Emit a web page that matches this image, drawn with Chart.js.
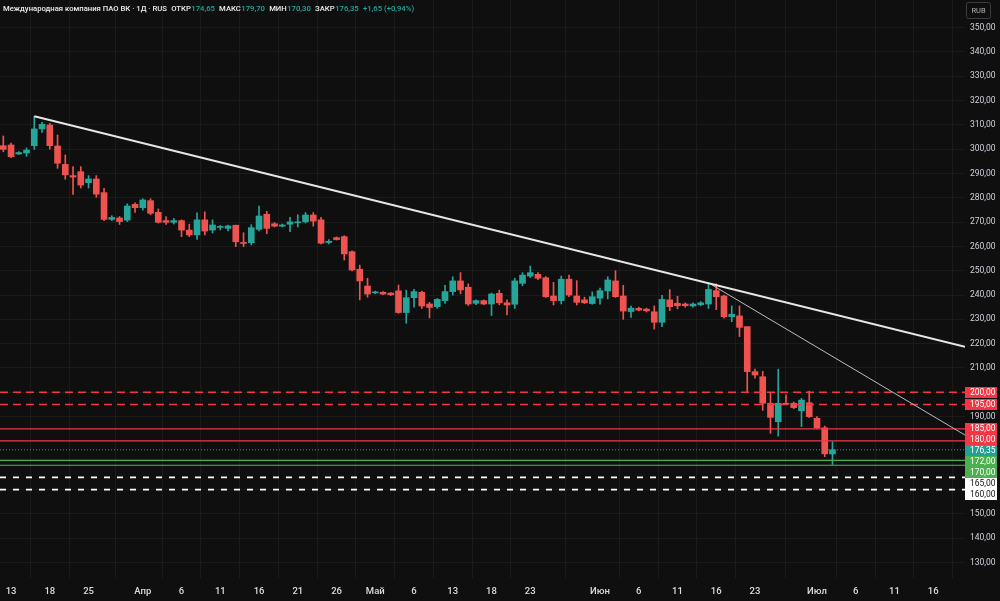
<!DOCTYPE html>
<html><head><meta charset="utf-8">
<script src="https://cdn.jsdelivr.net/npm/chart.js@4.4.1/dist/chart.umd.min.js"></script>
<style>html,body{margin:0;padding:0;background:#0f0f0f;overflow:hidden}#wrap{width:1000px;height:601px;position:relative}</style>
</head><body><div id="wrap"><canvas id="c" width="1000" height="601"></canvas></div>
<script>
// ---- data (daily candles) ----
const opens = [301.4,301.7,298.0,298.4,301.4,308.3,309.9,301.3,293.7,289.1,
290.7,286.2,287.7,282.1,271.1,271.7,270.8,277.3,275.9,278.8,
274.0,270.6,269.9,270.6,266.7,264.7,270.9,266.7,267.8,267.4,
268.7,261.5,261.5,267.0,273.2,269.3,268.3,269.1,269.7,270.1,
272.9,270.9,261.6,263.6,264.0,257.8,250.6,243.7,240.9,241.1,
240.8,241.7,232.8,238.9,241.1,236.3,235.2,237.7,241.4,245.8,
243.2,236.6,237.7,236.3,240.7,236.8,236.2,244.8,247.8,248.5,
247.1,239.6,237.7,246.5,239.6,238.0,236.5,238.7,241.7,245.8,
239.6,233.2,234.5,234.2,233.1,228.8,238.0,236.6,236.3,235.5,
236.0,236.3,241.8,239.6,231.1,231.4,227.0,208.5,206.4,195.5,
187.9,195.5,195.5,192.4,195.7,189.3,185.4,174.65];
const highs = [305.4,302.5,299.0,300.5,313.5,311.0,310.6,305.8,297.6,292.8,
292.8,289.1,289.1,283.9,272.6,272.3,277.5,277.9,279.6,279.6,
275.4,272.3,271.5,270.9,269.1,273.8,274.2,270.9,268.6,268.8,
268.7,265.6,268.9,276.6,274.4,269.8,269.2,271.9,273.0,273.9,
273.9,271.9,262.8,263.9,264.4,258.2,252.3,246.9,241.6,241.4,
241.0,244.1,242.0,242.3,241.6,237.0,238.6,244.0,247.5,249.2,
244.6,238.0,238.0,240.8,242.0,238.0,246.9,249.2,251.9,249.2,
247.6,245.2,247.8,248.2,245.9,239.1,241.3,242.9,247.5,250.0,
244.0,235.5,235.0,234.6,235.5,239.9,242.2,239.5,236.8,236.8,
237.3,244.8,244.6,240.0,235.5,235.5,227.0,209.5,208.6,199.6,
209.5,199.0,196.0,197.5,200.5,190.0,186.1,179.70];
const lows = [298.9,296.5,297.8,297.0,299.9,306.9,300.0,292.1,287.6,281.4,
284.0,284.0,280.2,270.6,270.6,269.0,270.2,274.0,274.9,273.0,
269.6,269.0,269.2,264.0,264.0,262.9,264.7,265.5,266.8,266.4,
259.9,259.9,260.6,266.4,265.2,268.0,268.0,266.0,268.0,269.6,
268.3,261.0,261.0,262.6,254.4,249.9,238.0,239.1,240.5,240.1,
239.8,232.5,228.4,235.0,234.5,230.6,234.5,236.5,240.0,240.5,
235.7,236.0,236.0,231.6,236.0,231.8,234.5,243.8,247.2,246.3,
239.0,235.9,236.3,239.3,235.9,236.5,236.2,236.2,238.4,239.0,
230.0,230.8,233.5,233.0,226.0,227.0,233.6,234.3,235.0,235.0,
235.6,234.5,234.0,230.5,229.0,222.9,199.8,205.8,192.6,183.1,
182.0,194.9,193.3,185.9,189.6,184.9,173.5,170.30];
const closes = [299.9,296.9,298.6,299.6,308.3,310.2,301.4,294.2,289.4,288.5,
285.2,287.7,281.5,271.1,271.9,270.2,276.6,275.9,279.1,273.6,
269.9,269.9,270.6,266.7,264.7,270.9,266.3,268.8,267.9,268.4,
261.9,261.2,267.7,272.5,267.4,268.3,268.8,270.1,270.1,272.9,
270.4,261.3,262.1,262.8,256.9,250.3,245.8,240.4,241.1,240.4,
240.1,232.8,238.9,241.4,235.5,234.9,238.2,241.4,245.8,242.1,
236.3,237.7,236.3,240.4,236.8,235.9,245.8,248.2,249.2,246.9,
239.3,237.7,246.5,240.0,237.0,236.8,239.3,241.8,246.2,239.3,
233.4,234.6,233.8,233.5,228.8,238.2,235.2,235.6,235.6,236.3,
236.8,242.3,239.3,231.1,232.1,226.7,208.5,207.1,195.5,189.7,
195.5,195.1,193.7,196.8,190.0,185.4,174.70,176.35];

const xTickIdx  = [1,6,11,18,23,28,33,38,43,48,53,58,63,68,77,82,87,92,97,105,110,115,120];
const xTickText = ['13','18','25','Апр','6','11','16','21','26','Май','6','13','18','23','Июн','6','11','16','23','Июл','6','11','16'];
const yTickValues = [130,140,150,160,170,180,190,200,210,220,230,240,250,260,270,280,290,300,310,320,330,340,350];

const levelValues = [200,195,185,180,176.35,172,170,165,160];
const levelKinds  = ['resDash','resDash','res','res','last','sup','sup','dash','dash'];

const trendMainX = [4,124.1];  const trendMainY = [313.5,218.7];
const trendThinX = [91,124.1]; const trendThinY = [245.0,182.4];

const headerTitle = 'Международная компания ПАО ВК · 1Д · RUS';
const headerKeys  = ['ОТКР','МАКС','МИН','ЗАКР'];
const headerVals  = ['174,65','179,70','170,30','176,35'];
const headerChange = '+1,65 (+0,94%)';

// ---- styling ----
const X_MIN = -0.426, X_MAX = 124.1, Y_MIN = 123.64, Y_MAX = 361.31;
const UP = '#26a69a', DOWN = '#ef5350';
const GRID = '#1b1b1b';
const TXT = '#d1d4dc';
const FONT = 'Roboto, "Noto Sans", sans-serif';

const idx = opens.map((_, i) => i);
const upFlags = idx.map(i => closes[i] >= opens[i]);
const candleColors = upFlags.map(u => u ? UP : DOWN);

const kindStyle = {
  resDash: {color:'#f23645', width:1.6, dash:[8,5], box:'#f23645', text:'#ffffff'},
  res:     {color:'#f23645', width:1.2, dash:[],    box:'#f23645', text:'#ffffff'},
  last:    {color:'#26a69a', width:1,   dash:[1,2], box:'#22a094', text:'#ffffff'},
  sup:     {color:'#4caf50', width:1.2, dash:[],    box:'#4caf50', text:'#ffffff'},
  dash:    {color:'#ffffff', width:1.8, dash:[6,7], box:'#ffffff', text:'#111111'}
};

const datasets = [];
datasets.push({
  type:'bar', label:'wick', order:5,
  data: idx.map(i => ({x:i, y:[lows[i], highs[i]]})),
  backgroundColor: candleColors, borderWidth:0, barThickness:1, minBarLength:1, grouped:false
});
datasets.push({
  type:'bar', label:'body', order:4,
  data: idx.map(i => ({x:i, y:[Math.min(opens[i],closes[i]), Math.max(opens[i],closes[i])]})),
  backgroundColor: candleColors, borderWidth:0, barThickness:6, minBarLength:1, grouped:false
});
levelValues.forEach((v, k) => {
  const st = kindStyle[levelKinds[k]];
  datasets.push({
    type:'line', label:'lvl'+v, order:3,
    data:[{x:X_MIN, y:v},{x:X_MAX, y:v}],
    borderColor: st.color, borderWidth: st.width, borderDash: st.dash,
    pointRadius:0, fill:false, tension:0
  });
});
datasets.push({
  type:'line', label:'trendMain', order:2,
  data: trendMainX.map((x,k)=>({x, y:trendMainY[k]})),
  borderColor:'#e6e6e6', borderWidth:2, pointRadius:0, fill:false
});
datasets.push({
  type:'line', label:'trendThin', order:2,
  data: trendThinX.map((x,k)=>({x, y:trendThinY[k]})),
  borderColor:'#b8bcc4', borderWidth:1, pointRadius:0, fill:false
});

const fmt = v => v.toFixed(2).replace('.', ',');

// resolve overlapping axis labels by grouping and centring clusters
function placeLabels(ideal, h, clusterShift){
  let groups = ideal.map((p,i)=>({items:[i], center:p}));
  let changed = true;
  while (changed){
    changed = false;
    groups.sort((a,b)=>a.center-b.center);
    for (let g=0; g<groups.length-1; g++){
      const A = groups[g], B = groups[g+1];
      const aBottom = A.center + A.items.length*h/2;
      const bTop = B.center - B.items.length*h/2;
      if (aBottom > bTop + 0.01){
        const items = A.items.concat(B.items);
        const center = items.reduce((s,i)=>s+ideal[i],0)/items.length + clusterShift;
        groups.splice(g,2,{items, center});
        changed = true; break;
      }
    }
  }
  const out = new Array(ideal.length);
  groups.forEach(G=>{
    const sorted = G.items.slice().sort((a,b)=>ideal[a]-ideal[b]);
    const top = G.center - sorted.length*h/2;
    sorted.forEach((i,n)=>{ out[i] = top + h*n + h/2; });
  });
  return out;
}

const overlay = {
  id:'overlay',
  beforeDraw(chart){
    const c = chart.ctx;
    c.save(); c.fillStyle = '#0f0f0f'; c.fillRect(0,0,chart.width,chart.height); c.restore();
  },
  afterDraw(chart){
    const c = chart.ctx, ys = chart.scales.y, area = chart.chartArea;
    c.save();
    const H = 11.1;
    const ideal = levelValues.map(v => ys.getPixelForValue(v) + 0.5);
    const placed = placeLabels(ideal, H, 2);
    c.font = '8.5px ' + FONT;
    c.textAlign = 'right'; c.textBaseline = 'middle';
    levelValues.forEach((v,k) => {
      const st = kindStyle[levelKinds[k]];
      const py = placed[k];
      const top = Math.round(py - H/2);
      c.fillStyle = st.box;
      c.fillRect(area.right, top, 32, 11);
      c.fillStyle = st.text;
      c.fillText(fmt(v), area.right + 30.5, top + 6);
    });
    // RUB box
    c.strokeStyle = '#3c3c3c'; c.lineWidth = 1;
    c.beginPath();
    if (c.roundRect) c.roundRect(966.5, 2.5, 24, 16, 2); else c.rect(966.5,2.5,24,16);
    c.stroke();
    c.fillStyle = '#b0b3ba'; c.font = '7.5px ' + FONT; c.textAlign = 'center';
    c.fillText('RUB', 978.5, 11);
    // header (font size fitted so the title spans the same width as in the reference)
    c.textAlign = 'left'; c.textBaseline = 'middle';
    c.font = '500 10px ' + FONT;
    const w10 = c.measureText(headerTitle).width;
    const fs = Math.min(11, 10 * 164 / w10);
    c.font = '500 ' + fs.toFixed(2) + 'px ' + FONT;
    const gap = fs * 0.55;
    let x = 3; const y = 9;
    c.fillStyle = '#ececec'; c.fillText(headerTitle, x, y); x += c.measureText(headerTitle).width + gap;
    headerKeys.forEach((k,n) => {
      c.fillStyle = '#ececec'; c.fillText(k, x, y); x += c.measureText(k).width + 0.5;
      c.fillStyle = UP; c.fillText(headerVals[n], x, y); x += c.measureText(headerVals[n]).width + gap;
    });
    c.fillStyle = UP; c.fillText(headerChange, x, y);
    c.restore();
  }
};

new Chart(document.getElementById('c'), {
  data:{datasets},
  options:{
    responsive:false, animation:false, devicePixelRatio:1,
    layout:{padding:0, autoPadding:false},
    plugins:{legend:{display:false}, tooltip:{enabled:false}},
    scales:{
      x:{type:'linear', min:X_MIN, max:X_MAX, offset:false,
        grid:{color:GRID, drawTicks:false}, border:{display:false},
        afterBuildTicks: s => { s.ticks = xTickIdx.map(v => ({value:v})); },
        afterFit: s => { s.height = 23; s.paddingLeft = 0; s.paddingRight = 0; },
        ticks:{color:'#dcdcdc', font:{family:FONT, size:9.5, weight:'500'}, padding:8, autoSkip:false, maxRotation:0,
          callback: v => { const k = xTickIdx.indexOf(v); return k >= 0 ? xTickText[k] : ''; }}
      },
      y:{type:'linear', position:'right', min:Y_MIN, max:Y_MAX,
        grid:{color:GRID, drawTicks:false}, border:{display:false},
        afterBuildTicks: s => { s.ticks = yTickValues.map(v => ({value:v})); },
        afterFit: s => { s.width = 35; s.paddingTop = 0; s.paddingBottom = 0; },
        ticks:{color:TXT, font:{family:FONT, size:8.5}, padding:5, crossAlign:'near', callback: v => fmt(v)}
      }
    }
  },
  plugins:[overlay]
});
</script></body></html>
